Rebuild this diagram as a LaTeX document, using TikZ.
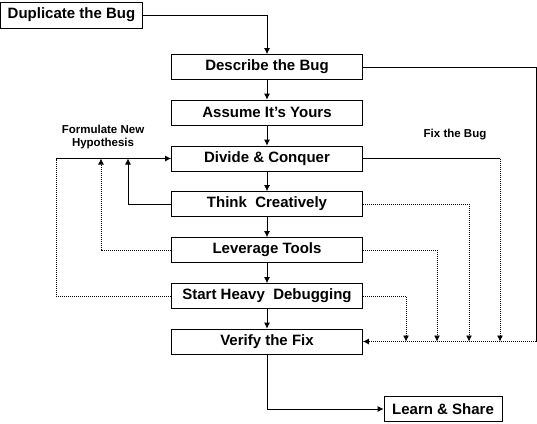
\documentclass[tikz,border=0pt]{standalone}
\usepackage{fontspec}
\setmainfont{Liberation Sans}
\usetikzlibrary{arrows.meta}

\begin{document}
\begin{tikzpicture}[
    block/.style={draw, line width=0.8pt, minimum height=25, inner sep=0pt,
      font=\fontsize{15}{17}\selectfont\bfseries},
    step box/.style={block, minimum width=191},
    note/.style={font=\fontsize{11.5}{12.5}\selectfont\bfseries, align=center},
    arr/.style={line width=0.8pt, -{Latex[length=6pt,width=6pt]}},
    dotline/.style={dash pattern=on 1pt off 1pt},
    x=1pt,y=-1pt
    ]
    \useasboundingbox (0, 0) rectangle (537, 423);
    \node[block, minimum width=142, minimum height=26] (dup) at (71.5, 15) {Duplicate the Bug};
    \node[step box] (desc) at (267, 67) {Describe the Bug};
    \node[step box] (own) at (267, 112.5) {Assume It's Yours};
    \node[step box] (divide) at (267, 158.5) {Divide \& Conquer};
    \node[step box] (think) at (267, 204) {Think\ \ Creatively};
    \node[step box] (tools) at (267, 250) {Leverage Tools};
    \node[step box] (heavy) at (267, 296) {Start Heavy\ \ Debugging};
    \node[step box] (verify) at (267, 341.5) {Verify the Fix};
    \node[block, minimum width=118] (learn) at (443, 409) {Learn \& Share};

    \node[note] (hyp) at (103, 137) {Formulate New\\Hypothesis};
    \node[note] (fix) at (455, 135) {Fix the Bug};

    % main flow
    \draw[arr] (dup.east) -| (desc.north);
    \foreach \a/\b in {desc/own, own/divide, divide/think, think/tools, tools/heavy, heavy/verify}
      \draw[arr] (\a.south) -- (\b.north);
    \draw[arr] (verify.south) |- (learn.west);

    % new hypothesis
    \coordinate (hypA) at (128, 158.5);
    \coordinate (hypB) at (101, 158.5);
    \coordinate (hypC) at (56, 158.5);
    \draw[arr] (think.west) -| (hypA);
    \draw[arr, dotline] (tools.west) -| (hypB);
    \draw[line width=0.8pt, dotline] (heavy.west) -| (hypC);
    \draw[arr] (hypC) -- (divide.west);

    % fix the bug
    \coordinate (fixA) at (536, 341.5);
    \coordinate (fixB) at (500, 341.5);
    \coordinate (fixC) at (469, 341.5);
    \coordinate (fixD) at (437, 341.5);
    \coordinate (fixE) at (406, 341.5);
    \draw[line width=0.8pt] (desc.east) -| (fixA);
    \draw[arr, dotline] (fixA) -- (verify.east);
    \draw[line width=0.8pt] (divide.east) -- (divide.east -| fixB);
    \draw[arr, dotline] (divide.east -| fixB) -- (fixB);
    \draw[arr, dotline] (think.east) -| (fixC);
    \draw[arr, dotline] (tools.east) -| (fixD);
    \draw[arr, dotline] (heavy.east) -| (fixE);
  \end{tikzpicture}
\end{document}
